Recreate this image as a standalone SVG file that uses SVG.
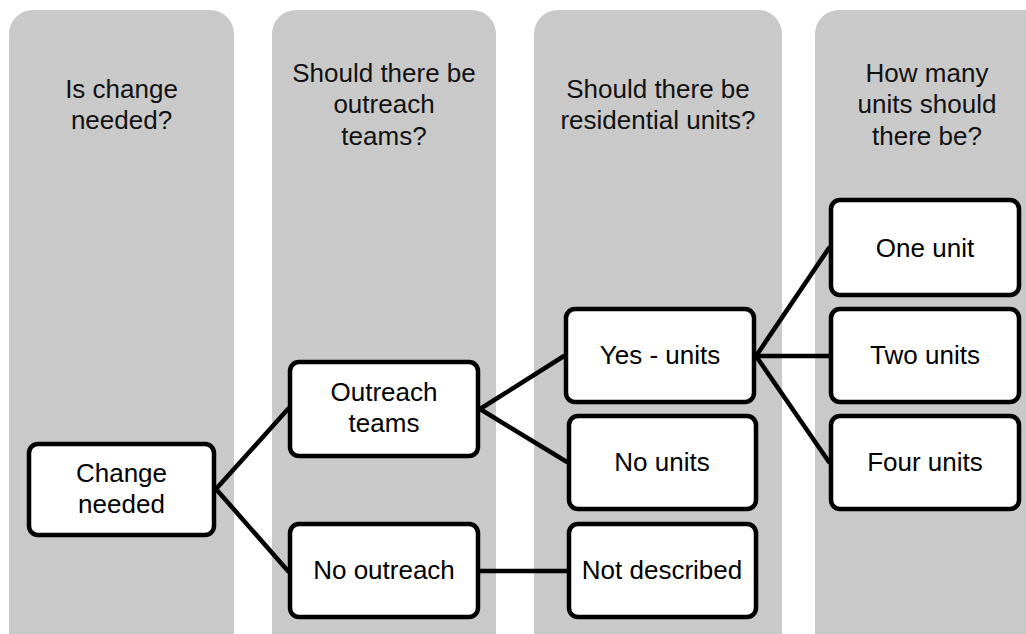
<svg xmlns="http://www.w3.org/2000/svg" width="1026" height="634" viewBox="0 0 1026 634">
<style>
.col{fill:#c9c9c9}
.hd{font-family:"Liberation Sans",Arial,sans-serif;font-size:26px;fill:#111;text-anchor:middle}
.box{fill:#fff;stroke:#000;stroke-width:4.5}
.lbl{font-family:"Liberation Sans",Arial,sans-serif;font-size:26px;fill:#000;text-anchor:middle}
.conn line{stroke:#000;stroke-width:4.5;stroke-linecap:round}
</style>
<rect width="1026" height="634" fill="#fff"/>
<g id="columns">
<g id="col1"><rect class="col" x="9" y="10" width="225" height="660" rx="24"/>
<text class="hd" x="121.5" y="98">Is change</text><text class="hd" x="121.5" y="129">needed?</text></g>
<g id="col2"><rect class="col" x="272" y="10" width="224" height="660" rx="24"/>
<text class="hd" x="384" y="82">Should there be</text><text class="hd" x="384" y="113">outreach</text><text class="hd" x="384" y="145">teams?</text></g>
<g id="col3"><rect class="col" x="534" y="10" width="248" height="660" rx="24"/>
<text class="hd" x="658" y="98">Should there be</text><text class="hd" x="658" y="129">residential units?</text></g>
<g id="col4"><rect class="col" x="815" y="10" width="240" height="660" rx="24"/>
<text class="hd" x="927" y="82">How many</text><text class="hd" x="927" y="113">units should</text><text class="hd" x="927" y="145">there be?</text></g>
</g>
<g id="connectors" class="conn">
<line x1="216" y1="489" x2="288" y2="409"/>
<line x1="216" y1="489" x2="288" y2="571"/>
<line x1="480" y1="409" x2="564" y2="356"/>
<line x1="480" y1="409" x2="567" y2="462"/>
<line x1="480" y1="571" x2="567" y2="571"/>
<line x1="756" y1="356" x2="829" y2="248"/>
<line x1="756" y1="356" x2="829" y2="356"/>
<line x1="756" y1="356" x2="829" y2="462"/>
</g>
<g id="n-change"><rect class="box" x="29" y="444" width="185" height="91" rx="9"/>
<text class="lbl" x="121.5" y="482">Change</text><text class="lbl" x="121.5" y="513">needed</text></g>
<g id="n-outreach"><rect class="box" x="290" y="362" width="188" height="94" rx="9"/>
<text class="lbl" x="384" y="401">Outreach</text><text class="lbl" x="384" y="432">teams</text></g>
<g id="n-nooutreach"><rect class="box" x="290" y="524" width="188" height="93" rx="9"/>
<text class="lbl" x="384" y="579">No outreach</text></g>
<g id="n-yesunits"><rect class="box" x="566" y="309" width="188" height="93" rx="9"/>
<text class="lbl" x="660" y="364">Yes - units</text></g>
<g id="n-nounits"><rect class="box" x="569" y="416" width="187" height="93" rx="9"/>
<text class="lbl" x="662" y="471">No units</text></g>
<g id="n-notdescribed"><rect class="box" x="569" y="524" width="187" height="93" rx="9"/>
<text class="lbl" x="662" y="579">Not described</text></g>
<g id="n-one"><rect class="box" x="831" y="200" width="188" height="95" rx="9"/>
<text class="lbl" x="925" y="257">One unit</text></g>
<g id="n-two"><rect class="box" x="831" y="309" width="188" height="93" rx="9"/>
<text class="lbl" x="925" y="364">Two units</text></g>
<g id="n-four"><rect class="box" x="831" y="416" width="188" height="93" rx="9"/>
<text class="lbl" x="925" y="471">Four units</text></g>
</svg>
